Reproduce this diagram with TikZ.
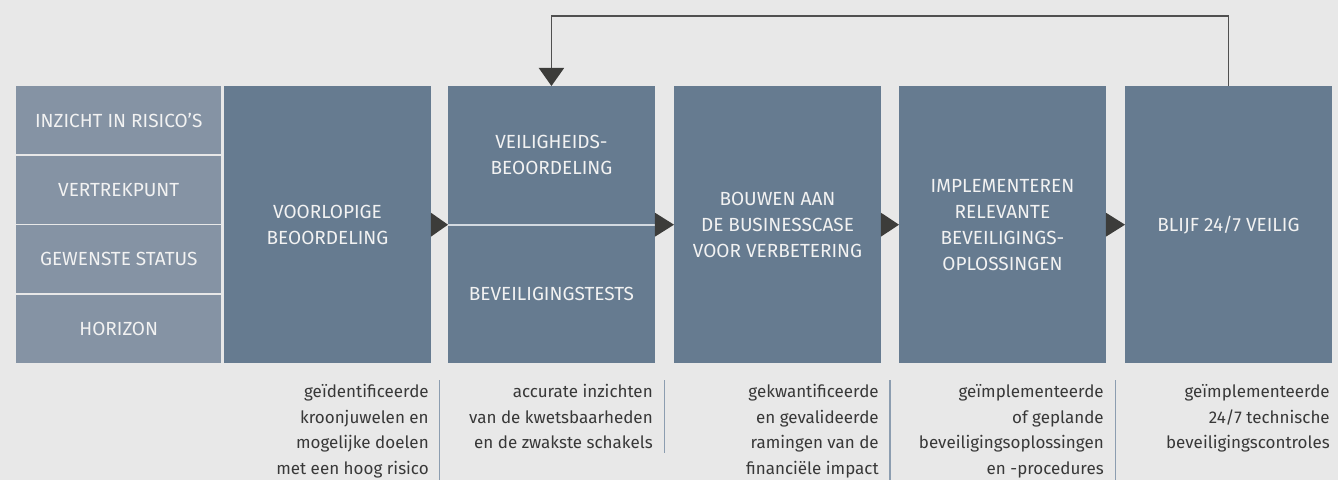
\documentclass[tikz,border=0pt]{standalone}
\usepackage{fontspec}
\setmainfont{Fira Sans}
\usetikzlibrary{arrows.meta,calc}
\tikzset{>=Stealth}
\definecolor{background}{HTML}{E8E8E8}
\definecolor{boxColor}{HTML}{667B90}
\definecolor{sideColor}{HTML}{8593A4}
\definecolor{splitColor}{HTML}{D3DAE1}
\definecolor{tipColor}{HTML}{3C3C3A}
\definecolor{loopColor}{HTML}{505050}
\definecolor{noteColor}{HTML}{383838}
\definecolor{barColor}{HTML}{8C9DB0}
\tikzset{
  stage/.style={fill=boxColor, text=white!95!black, anchor=north west, inner sep=0pt,
    minimum width=206.5pt, minimum height=277pt, align=center,
    font=\fontsize{19}{26}\selectfont},
  side/.style={stage, fill=sideColor, minimum width=205pt, minimum height=68pt},
  caption/.style={text=white!95!black, inner sep=0pt, align=center,
    font=\fontsize{19}{26}\selectfont},
  note/.style={text=noteColor, anchor=north east, inner sep=0pt, align=right,
    font=\fontsize{17}{25.5}\selectfont},
  bar/.style={barColor, line width=1.4pt},
  feedback/.style={loopColor, line width=1.8pt,
    -{Triangle[length=18pt,width=25pt,color=tipColor]}}
}
\begin{document}
\begin{tikzpicture}[x=1pt,y=-1pt]
\fill[background] (0,0) rectangle (1338,480);
% left column
\node[side] (r1) at (16,86) {INZICHT IN RISICO'S};
\node[side] (r2) at (16,155.5) {VERTREKPUNT};
\node[side] (r3) at (16,225) {GEWENSTE STATUS};
\node[side] (r4) at (16,294.5) {HORIZON};
% stages
\node[stage] (b1) at (224,86) {VOORLOPIGE\\BEOORDELING};
\node[stage] (b2) at (448,86) {};
\node[stage] (b3) at (674,86) {BOUWEN AAN\\DE BUSINESSCASE\\VOOR VERBETERING};
\node[stage] (b4) at (899,86) {IMPLEMENTEREN\\RELEVANTE\\BEVEILIGINGS-\\OPLOSSINGEN};
\node[stage] (b5) at (1125,86) {BLIJF 24/7 VEILIG};
% split second stage
\draw[splitColor, line width=2pt] (b2.west) -- (b2.east);
\node[caption] (b2top) at ($(b2.north)!.5!(b2.center)$) {VEILIGHEIDS-\\BEOORDELING};
\node[caption] (b2bot) at ($(b2.south)!.5!(b2.center)$) {BEVEILIGINGSTESTS};
% triangles between stages
\foreach \a/\b in {b1/b2,b2/b3,b3/b4,b4/b5}
  \fill[tipColor] ([yshift=12pt]\a.east) -- (\b.west) -- ([yshift=-12pt]\a.east) -- cycle;
% loop back
\draw[feedback] (b5.north) -- ++(0,-70) -| (b2.north);
% notes below
\node[note] (n1) at ([shift={(-2,21)}]b1.south east) {geïdentificeerde\\kroonjuwelen en\\mogelijke doelen\\met een hoog risico};
\node[note] (n2) at ([shift={(-2,21)}]b2.south east) {accurate inzichten\\van de kwetsbaarheden\\en de zwakste schakels};
\node[note] (n3) at ([shift={(-2,21)}]b3.south east) {gekwantificeerde\\en gevalideerde\\ramingen van de\\financiële impact};
\node[note] (n4) at ([shift={(-2,21)}]b4.south east) {geïmplementeerde\\of geplande\\beveiligingsoplossingen\\en -procedures};
\node[note] (n5) at ([shift={(-2,21)}]b5.south east) {geïmplementeerde\\24/7 technische\\beveiligingscontroles};
\foreach \a/\b/\len in {b1/b2/100,b2/b3/73,b3/b4/100,b4/b5/100}
  \draw[bar] ($(\a.south east)!.5!(\b.south west)$) ++(0,17) -- ++(0,\len);
\end{tikzpicture}
\end{document}
